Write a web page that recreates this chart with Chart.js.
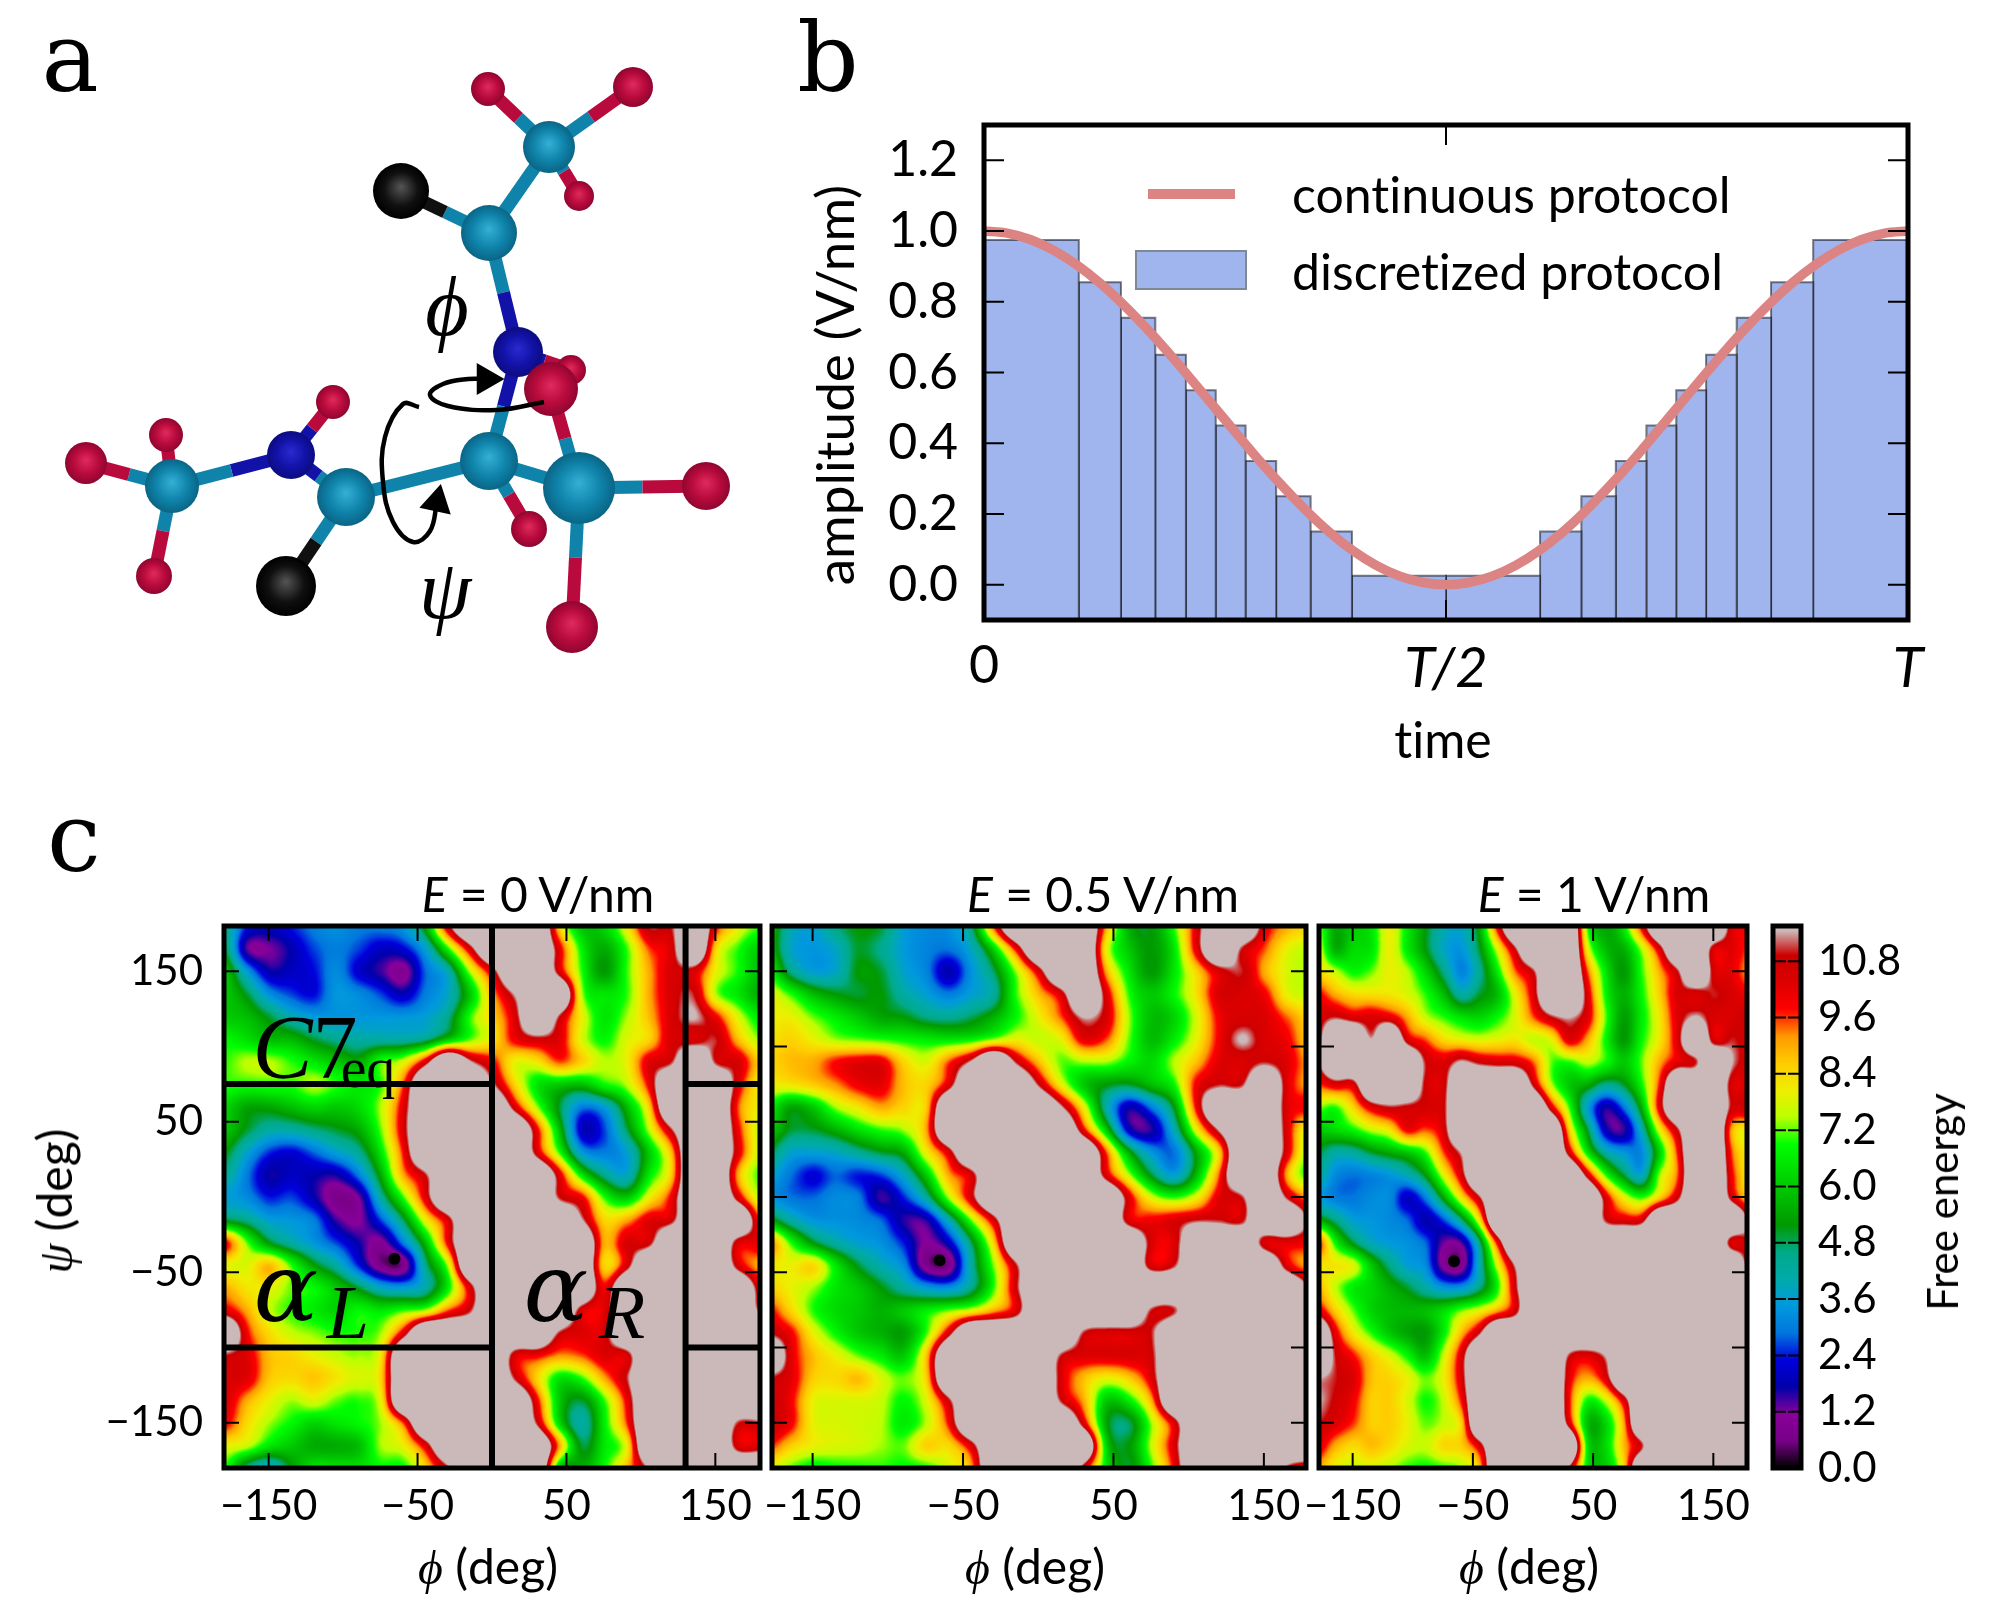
<!DOCTYPE html>
<html lang="en">
<head>
<meta charset="UTF-8">
<title>Dipeptide free energy</title>
<script src="https://cdn.jsdelivr.net/npm/chart.js"></script>
<style>
  body { margin: 0; background: #fff; width: 2000px; height: 1622px; position: relative; overflow: hidden; font-variant-ligatures: none; }
  canvas { position: absolute; left: 0; top: 0; }
  .t { position: absolute; transform: translate(-50%, -50%); white-space: nowrap; font-family: Lato, sans-serif; color: #000; line-height: 1; z-index: 5; }
  .up { transform: translate(-50%, -50%) rotate(-90deg); }
  .letter { font-family: "DejaVu Serif", serif; font-size: 96px; }
  .big { font-family: "Liberation Serif", serif; font-style: italic; }
  .axis { font-size: 48px; }
  .sub { font-family: "Liberation Serif", serif; }
  i.m { font-family: "Liberation Serif", serif; font-style: italic; }
  .swatch { position: absolute; z-index: 5; }
</style>
</head>
<body>
<canvas id="molecule" width="2000" height="1622"></canvas>
<canvas id="protocol" width="2000" height="1622"></canvas>
<canvas id="mapZero" width="2000" height="1622"></canvas>
<canvas id="mapHalf" width="2000" height="1622"></canvas>
<canvas id="mapOne" width="2000" height="1622"></canvas>
<canvas id="colorbar" width="2000" height="1622"></canvas>

<div class="t letter" style="left:70px;top:58px">a</div>
<div class="t letter" style="left:828px;top:58px">b</div>
<div class="t letter" style="left:74px;top:838px">c</div>

<div class="t big" style="left:447px;top:307px;font-size:84px">&#981;</div>
<div class="t big" style="left:445px;top:590px;font-size:84px">&#968;</div>

<div class="swatch" style="left:1148px;top:189px;width:87px;height:10px;background:#dc8484"></div>
<div class="swatch" style="left:1135px;top:250px;width:112px;height:40px;background:#a0b5ee;border:2px solid #808896;box-sizing:border-box"></div>
<div class="t" style="left:1292px;top:194px;font-size:50px;transform:translate(0,-50%)">continuous protocol</div>
<div class="t" style="left:1292px;top:271px;font-size:50px;transform:translate(0,-50%)">discretized protocol</div>
<div class="t up" style="left:833px;top:385px;font-size:53px">amplitude (V/nm)</div>
<div class="t" style="left:1443px;top:739px;font-size:50px">time</div>

<div class="t axis" style="left:538px;top:894px"><i>E</i> = 0 V/nm</div>
<div class="t axis" style="left:1103px;top:894px"><i>E</i> = 0.5 V/nm</div>
<div class="t axis" style="left:1594px;top:894px"><i>E</i> = 1 V/nm</div>
<div class="t axis" style="left:488px;top:1567px"><i class="m">&#981;</i> (deg)</div>
<div class="t axis" style="left:1035px;top:1567px"><i class="m">&#981;</i> (deg)</div>
<div class="t axis" style="left:1529px;top:1567px"><i class="m">&#981;</i> (deg)</div>
<div class="t axis up" style="left:55px;top:1201px"><i class="m">&#968;</i> (deg)</div>
<div class="t up" style="left:1942px;top:1202px;font-size:42px">Free energy</div>

<div class="t big" style="left:305px;top:1048px;font-size:90px"><i>C</i><span class="sub" style="font-style:normal">7</span></div>
<div class="t sub" style="left:368px;top:1068px;font-size:58px">eq</div>
<div class="t" style="left:286px;top:1288px;font-size:96px;font-family:'DejaVu Serif',serif;font-style:italic">&#945;</div>
<div class="t big" style="left:348px;top:1312px;font-size:76px">L</div>
<div class="t" style="left:556px;top:1288px;font-size:96px;font-family:'DejaVu Serif',serif;font-style:italic">&#945;</div>
<div class="t big" style="left:622px;top:1312px;font-size:76px">R</div>

<script>
// panel b
const binEdges = [0, 0.1026, 0.1482, 0.1854, 0.2185, 0.2508, 0.2831, 0.3162, 0.3535, 0.3982, 0.5, 0.6018, 0.6465, 0.6838, 0.7169, 0.7492, 0.7815, 0.8146, 0.8518, 0.8974, 1];
const binHeights = [0.975, 0.855, 0.755, 0.65, 0.55, 0.45, 0.35, 0.25, 0.15, 0.025, 0.025, 0.15, 0.25, 0.35, 0.45, 0.55, 0.65, 0.755, 0.855, 0.975];
const curveTime = [0, 0.025, 0.05, 0.075, 0.1, 0.125, 0.15, 0.175, 0.2, 0.225, 0.25, 0.275, 0.3, 0.325, 0.35, 0.375, 0.4, 0.425, 0.45, 0.475, 0.5, 0.525, 0.55, 0.575, 0.6, 0.625, 0.65, 0.675, 0.7, 0.725, 0.75, 0.775, 0.8, 0.825, 0.85, 0.875, 0.9, 0.925, 0.95, 0.975, 1];
const curveAmplitude = [1, 0.994, 0.976, 0.946, 0.905, 0.854, 0.794, 0.727, 0.655, 0.578, 0.5, 0.422, 0.345, 0.273, 0.206, 0.146, 0.095, 0.054, 0.024, 0.006, 0, 0.006, 0.024, 0.054, 0.095, 0.146, 0.206, 0.273, 0.345, 0.422, 0.5, 0.578, 0.655, 0.727, 0.794, 0.854, 0.905, 0.946, 0.976, 0.994, 1];
const amplitudeTicks = [0, 0.2, 0.4, 0.6, 0.8, 1, 1.2];
const timeTicks = [0, 0.5, 1];
const timeLabels = ['0', 'T/2', 'T'];

// panel a
const atomX = [571, 401, 286, 488, 633, 579, 549, 489, 518, 86, 166, 154, 172, 333, 291, 346, 529, 489, 706, 572, 579, 551];
const atomY = [370, 191, 586, 89, 87, 196, 147, 233, 352, 463, 435, 576, 486, 402, 455, 497, 529, 461, 486, 627, 488, 389];
const atomR = [15, 28, 30, 17, 20, 15, 26, 28, 25, 21, 17, 18, 27, 17, 24, 29, 18, 29, 24, 26, 36, 27];
const atomKind = ['H', 'O', 'O', 'H', 'H', 'H', 'C', 'C', 'N', 'H', 'H', 'H', 'C', 'H', 'N', 'C', 'H', 'C', 'H', 'H', 'C', 'H'];
const bondFrom = [6, 6, 6, 6, 7, 7, 8, 8, 17, 17, 17, 20, 20, 20, 15, 15, 14, 14, 12, 12, 12];
const bondTo = [3, 4, 5, 7, 1, 8, 0, 17, 15, 20, 16, 21, 18, 19, 14, 2, 13, 12, 9, 10, 11];
const phiArrowX = [544, 497, 448, 430, 443, 468, 486];
const phiArrowY = [402, 410, 406, 395, 384, 379, 379];
const psiArrowX = [419, 403, 385, 383, 393, 413, 430, 437];
const psiArrowY = [407, 404, 437, 482, 522, 542, 531, 502];

// panel c
const phiNodes = [-180, -165, -150, -135, -120, -105, -90, -75, -60, -45, -30, -15, 0, 15, 30, 45, 60, 75, 90, 105, 120, 135, 150, 165, 180];
const psiNodes = [180, 165, 150, 135, 120, 105, 90, 75, 60, 45, 30, 15, 0, -15, -30, -45, -60, -75, -90, -105, -120, -135, -150, -165, -180];
const phiTicks = [-150, -50, 50, 150];
const psiLabelled = [-150, -50, 50, 150];
const psiTicks = [-150, -100, -50, 0, 50, 100, 150];
const energyTicks = [0, 1.2, 2.4, 3.6, 4.8, 6, 7.2, 8.4, 9.6, 10.8];
const cutPhi = [0, 130];
const cutPsi = [75, -100];
const deepestPhi = [-65.5, -65.6, -65.7];
const deepestPsi = [-41, -42, -42.6];
const colorStops = [0, 0.58, 1.15, 1.73, 2.3, 2.88, 3.45, 4.03, 4.6, 5.18, 5.75, 6.33, 6.9, 7.48, 8.05, 8.63, 9.2, 9.78, 10.35, 10.93, 11.45];
const stopColors = ['#000000', '#780088', '#880099', '#0000aa', '#0000dd', '#0077dd', '#0099dd', '#00aaaa', '#00aa88', '#009900', '#00bb00', '#00dd00', '#00ff00', '#bbff00', '#eeee00', '#ffcc00', '#ff9900', '#ff0000', '#dd0000', '#cc0000', '#cbb9b9'];

const energyZero = [
[4.5,2.4,2,2.4,3,3.3,3,3,3.4,5.5,10.5,12,12,12,12,8.5,6,6.2,8,11,11,12,10,8,7],
[5,1.4,1.2,1.8,2.6,3,2.6,2,2.2,3.6,6.8,10.5,12,12,12,10.2,6.7,5.5,7,9.5,10.5,12,8.5,7,6],
[6,3.5,1.8,2,2.3,3.2,2.1,1.5,0.9,2.8,4,7.5,10.5,12,12,10.5,7,5.2,7,9,10.5,10.5,8,6.9,5.8],
[6,5,3.3,2.6,2.3,3.4,3.2,2.6,1.9,3,3.8,6,9,11.5,12,12,7.5,6.5,7,9,10.5,11,7.5,6.5,5.5],
[6,5.8,5,4,3.5,3.4,3.4,3.4,3.4,3.6,4.5,7,8.5,10.5,12,11,8,6.5,7.4,8.8,10.5,11.5,10,7.8,6.5],
[6.8,6.4,5.8,5.7,5,4.5,4.2,4.2,4.2,4.6,6,7.2,8.2,10,10.7,10.3,7.8,6.8,7.8,8.5,10.5,10.5,11,8.8,7.3],
[7,7.5,7.5,7,6.5,6,5.5,7,7.8,10.5,12,11.5,10,8,8.2,9.5,8.5,7.5,8,10.3,11,12,11,10.5,8.5],
[7,6.9,7,7,7.5,7,6.5,7,9.5,12,12,12,11.5,8.5,6.5,6,5.8,6.8,7.5,10,12,12,12,10.3,8],
[6.2,5.4,5.4,5.8,6.2,6,6.3,7.5,10.3,12,12,12,12,10.5,7.4,5,3,3.5,5.7,8.5,12,12,12,9.5,8],
[6,5,4.2,4.2,4.6,5,5.5,7.2,10.5,12,12,12,12,12,10,5.8,2,2.6,4.8,7.5,11,12,12,10,7.5],
[5.2,3.7,2.5,2.2,2.8,3.6,4.4,6.5,9.8,12,12,12,12,12,10.5,7,3.5,3,3.6,6,8.8,12,12,10.3,7.5],
[4.4,3,1.7,2,1.8,1.7,3,5.5,9,11,12,12,12,12,12,10.3,6.5,4.5,3.8,6.5,8.6,12,12,9,7],
[3.6,3.2,2.4,2.6,1.8,0.7,1.2,4.2,7,10.3,12,12,12,12,12,11,10,7,6,8,10,12,12,10.5,7.5],
[5,4.5,3.6,3.4,3,1.5,1.1,2.6,4.8,8,10.5,12,12,12,12,12,11.5,8.5,9,10.3,10.7,12,12,12,9.5],
[10,7.2,5.2,4.2,3.4,2.6,1.7,1,3,5.8,10,12,12,12,12,12,12,9,10.5,10.7,12,12,12,10.5,10.3],
[8,7.8,8.8,7,5.3,4.2,2.4,0.7,0.7,4.5,7.5,12,12,12,12,12,12,8.5,10.5,12,12,12,12,10.5,9],
[9,8.2,8,7.2,6.8,6,5,3.8,3.5,4.2,6.6,10.5,12,12,12,12,12,10,12,12,12,12,12,12,10.3],
[10.3,9,7.6,7,6.6,6.2,6.8,6.5,7,7.5,9.5,11,12,12,12,12,10.5,10.3,12,12,12,12,12,12,11],
[12,10,8.4,7.6,7.3,7,7,7.4,10.3,12,12,12,12,12,12,11,10.4,10.5,12,12,12,12,12,12,12],
[11,10.3,8.8,8.5,8,7.6,7.4,8.2,12,12,12,12,12,10.5,10,9.2,9.5,10.4,10.5,12,12,12,12,12,12],
[10.5,10.3,8.7,8.4,8.7,8.2,7.8,8.5,12,12,12,12,12,11,8.5,6.5,7,9,11,12,12,12,12,12,12],
[10.5,9,8,7.4,7.8,7.2,7,8,12,12,12,12,12,12,10,6,5,7,10,12,12,12,12,12,12],
[10,8.4,7.4,6.8,6.2,6.5,6.8,7.4,9.5,12,12,12,12,12,11,6.3,4.2,6.6,9.5,12,12,12,12,11,11],
[8,7.6,6.5,6,5.5,5.5,5.8,7.4,8,10.3,12,12,12,12,12,9,5,6.5,8,12,12,12,12,10.5,10.5],
[7,4.5,3.6,5.2,6.4,6.4,6.4,6.8,6.8,8.5,11,12,12,12,12,6,5.5,6.8,8.8,11.5,12,12,12,12,12]
];
const energyHalf = [
[6,4,3.6,4.6,5.2,5,3.6,3.2,3.3,4.6,9.5,12,12,12,12,9,5.6,5.2,7,10.4,12,12,10.4,9,8.5],
[6,3.8,3.4,3.8,5,4.5,3.5,3.1,2.9,3.8,6.2,10,12,12,12,8,6,5.2,6.5,10.3,12,11,9.5,8,7.5],
[7,4.6,3.6,3.8,5.2,5,3.7,3.1,1.8,3.3,4.8,7.4,10.4,12,12,9,6.5,5.2,6.5,8.5,10.5,11,9,7.8,7.4],
[8,7,5.8,5.2,5,5.2,4.2,3.6,3,3.6,4.3,7,8.8,10.5,12,10.4,7,6,6.8,8.3,10.5,10.5,10,8,7.6],
[8,8,7.2,6.6,6,5.4,5.2,4.6,4.4,4.8,5.6,6.8,8,9.5,11.5,10.5,7.4,5.8,6.2,7.8,10,10.5,10.4,9.4,8.4],
[8.2,8.5,8,7.4,7.2,7,6.8,6.6,6.5,6.7,7.4,8,7.6,8,10.2,9.5,7.2,5.8,6.6,8,10,11.5,10.5,10,8.5],
[8.5,8.8,9,9.8,10.2,10.2,8.5,7.8,9.5,11.5,12,11,8.8,7.2,7.4,7.4,6.7,6.3,7.5,8.8,10.3,10.4,11,10.3,9],
[8,8.2,8.6,9.2,10,10.2,8.8,8.5,10.4,12,12,12,11,8,6,5.2,5,5.8,6.8,10,11,11,12,10.4,9],
[6.8,5.4,6,7.4,8.2,9,8.5,8.6,12,12,12,12,12,11.5,8,4.2,1.8,3,5.2,10,12,12,12,10.4,10],
[6.2,5,5,5.6,6.4,7,7.4,9,12,12,12,12,12,12,10,6,2,1.6,4,8,11.5,12,12,10.4,7.5],
[5,3.7,3.6,3.8,4.4,5,5.5,8,10.4,12,12,12,12,12,12,9.5,5.5,3.4,2.9,5.5,8.6,12,12,10.4,7],
[3.8,2.9,2.2,2.8,2.4,2.6,3.8,6,9,10.5,12,12,12,12,12,10.4,7.5,5,3.6,5.8,9.5,12,12,9,6.8],
[3.4,2.9,2.8,3.2,3,1.5,2.4,4.2,7.4,10.5,12,12,12,12,12,12,10.3,7.8,7,8,10.3,11,12,11,9],
[5.5,4.2,3.4,3.3,3.2,2.8,1.6,1.6,4,7.2,10.5,12,12,12,12,12,10.4,10,10.4,11,11,10.8,12,12,11],
[9.5,7,5.2,4.2,3.6,3.3,2.4,1.1,2,4.8,8.5,12,12,12,12,12,12,10.5,10.4,12,12,12,10.5,10.3,10],
[8.2,8,8.4,6.5,5,4,3.2,0.8,0.7,4.2,7.3,11,12,12,12,12,12,10.4,11,12,12,12,12,10.4,9],
[8.6,8,7.4,6.5,6,5.2,4.3,3.5,3.3,4.5,7,10.8,12,12,12,12,12,12,12,12,12,12,12,12,11.5],
[10,8.5,7,6.3,6,5.6,6,6.6,7.2,7.8,9,10.4,12,12,12,12,12,11,11,12,12,12,12,12,12],
[11,10,8,6.8,6,5.6,5.3,7,10.5,12,12,12,12,12,11,10.5,10.5,11,12,12,12,12,12,12,12],
[12,10.4,8.8,8,7.2,6.6,6,8.6,12,12,12,12,12,11,10.4,10.4,10.5,10.8,12,12,12,12,12,12,12],
[11,10.3,8.6,8.4,8.8,7.8,7.2,8.5,12,12,12,12,12,10.5,8.8,8,8.6,10.4,12,12,12,12,12,12,12],
[11,10,8,7.8,7.8,7.6,6.8,7.8,10.8,12,12,12,12,11,9,6,6.6,9,12,12,12,12,12,12,12],
[11,10,8,7.8,7.7,7.5,6.6,7.5,9.8,12,12,12,12,12,10.4,5.4,4.8,7.4,10.4,12,12,12,12,12,12],
[9.8,8.6,8,7.8,7.7,7.4,7.2,8.5,8.4,10.4,12,12,12,12,12,6.2,5.2,7.6,10.5,12,12,12,12,12,12],
[8,7.2,6.6,6.8,6.9,7,6.8,6.9,7.8,9,12,12,12,12,10.5,6.5,5,7,10,12,12,12,12,11,10]
];
const energyOne = [
[7.5,5.5,6,6.5,8,6.6,5.2,4,3.8,5.5,10,12,12,12,12,7,5.4,6.6,10,12,12,12,12,10.4,10],
[8,5.6,6.3,6.5,8,6.6,5.2,3.8,3.4,5,7.8,11,12,12,12,8,5.8,5.6,7.5,10.5,12,12,10.5,10.3,9.5],
[8.4,7.6,6.8,7.2,8,7.5,6.2,4.6,3.1,4.4,6.6,9.4,11,12,12,9.5,6.5,5.2,7,9,11,12,10.6,10.2,9],
[10,9,8.4,8.3,8.2,7.8,7,5.8,4.2,5,5.8,8,10.4,12,12,10.4,6.8,5.6,6.8,8.6,10.5,10.5,11,10.5,10],
[10.5,11,10.4,10.4,10.2,9,7.6,7,6.4,6.2,6.8,7.8,9.5,11,11.5,10.3,7.2,5.3,6.6,8.2,10.4,11.5,10.5,10.5,11],
[10.5,12,12,11.5,12,10.5,9.5,8.4,8,7.8,8,8.2,7.6,8,10.3,9,6.8,5.2,6.8,8.2,10.5,12,10.5,11,10.6],
[11,12,12,12,12,12,11,10.4,11.5,10.8,10.5,10.4,9.4,7.2,7,7.6,6.9,6,7.2,9,10.3,11,12,11.5,10.6],
[9.5,10.4,10.5,12,12,12,10.8,10.6,12,12,12,12,10.8,7.5,6,5.5,4.5,5,6.8,9.8,12,12,12,10.5,10.5],
[7.4,7,8.5,10.3,11,10.8,10.6,10.8,12,12,12,12,12,10.3,7,3.6,1.7,2.9,5.6,10.3,12,12,12,10.8,11],
[6,6.3,6.8,7.6,8.2,10,9.5,10.5,12,12,12,12,12,12,8.5,5,1.9,1.5,4,8,11,12,12,9,8],
[5,4.2,4.3,5,5.5,6,7,9.5,11.5,12,12,12,12,12,10.4,6.5,4.2,3.4,3.2,6.2,9.8,12,12,9.5,8],
[4.4,3.2,2.9,3.1,3.4,4,5.2,7.8,10.5,12,12,12,12,12,12,10.5,7,5,3.8,7.4,9.5,12,12,10,8],
[3.6,3,2.9,3.2,3.2,2,3,5.4,8.2,11,12,12,12,12,12,12,10.4,8,7,8.6,10.8,12,12,10.6,8.5],
[5.6,4.6,3.6,3.4,3.2,2.8,1.8,2.6,4.6,8.2,12,12,12,12,12,12,11,10.4,10.6,12,12,12,12,12,11],
[10,6.8,5,3.9,3.5,3.3,2.8,1.3,1.4,4.6,10,12,12,12,12,12,12,12,12,12,12,12,12,10.5,11],
[8.2,8.2,7.8,6,4.6,3.6,3.2,1,0.8,4,7.8,11.5,12,12,12,12,12,12,12,12,12,12,12,12,10.5],
[9,7.6,6.6,6.2,5.6,5,4.2,3.4,3.4,4.6,6.8,10.8,12,12,12,12,12,12,12,12,12,12,12,12,12],
[10.4,8.6,7.2,6.2,5.8,5.7,5.8,6.3,7.2,7.9,9,10.6,12,12,12,12,12,12,12,12,12,12,12,12,12],
[12,10.3,8.2,7,6,5.4,5.2,6.6,8.8,11,12,12,12,12,12,12,12,12,12,12,12,12,12,12,12],
[12,11,9.8,8.6,7.8,6.8,5.8,7.6,10.4,12,12,12,12,12,11,10.4,11.5,12,12,12,12,12,12,12,12],
[11.5,11,10.4,8.8,8.5,8,7.2,8,10.5,12,12,12,12,12,10.2,9,10.4,12,12,12,12,12,12,12,12],
[11.5,10.8,10,8.6,8.6,7.8,6.9,7.6,9.8,12,12,12,12,12,9.8,6.8,7.6,10.3,12,12,12,12,12,12,12],
[11,10.4,9.6,8.6,8.6,8,7.2,7.6,8.6,12,12,12,12,12,10.4,5.8,6.2,9,12,12,12,12,12,12,12],
[10.4,9,8.4,8.8,8.4,7.8,7.6,8.4,8.6,10.4,12,12,12,12,12,6.5,6.3,8.8,11,12,12,12,12,12,12],
[9,8,7.7,7.8,7.5,7,6.8,7,7.4,8.8,12,12,12,12,11,6.5,6,8.4,12,12,12,12,12,12,12]
];

const atomColors = {
  C: ['#35b0d6', '#0f83aa', '#0a6585'],
  H: ['#e02a5e', '#b80a3c', '#8f0630'],
  N: ['#2a2ad0', '#1212a8', '#0c0c80'],
  O: ['#555555', '#101010', '#000000']
};
const sans = 'Lato, sans-serif';
// nodes read as 12 are the flat grey plateau: the energy there is off the scale
const plateauEnergy = 14.5;

function energyColor(v) {
  if (v >= colorStops[colorStops.length - 1]) return hexRgb(stopColors[stopColors.length - 1]);
  for (let k = 1; k < colorStops.length; k++) {
    if (v <= colorStops[k]) {
      const f = (v - colorStops[k - 1]) / (colorStops[k] - colorStops[k - 1]);
      const a = hexRgb(stopColors[k - 1]), b = hexRgb(stopColors[k]);
      return [a[0] + (b[0] - a[0]) * f, a[1] + (b[1] - a[1]) * f, a[2] + (b[2] - a[2]) * f];
    }
  }
}
function hexRgb(h) {
  return [parseInt(h.slice(1, 3), 16), parseInt(h.slice(3, 5), 16), parseInt(h.slice(5, 7), 16)];
}
function cubic(a, b, c, d, t) {
  return b + 0.5 * t * (c - a + t * (2 * a - 5 * b + 4 * c - d + t * (3 * (b - c) + d - a)));
}

// contour style fill of the free energy nodes, placed with the chart's own scales
const heatPlugin = {
  id: 'heat',
  beforeDatasetsDraw(chart) {
    const set = chart.data.datasets.find(d => d.label === 'free energy');
    if (!set) return;
    const { ctx, chartArea: a, scales } = chart;
    const w = Math.round(a.right - a.left), h = Math.round(a.bottom - a.top);
    const off = document.createElement('canvas');
    off.width = w; off.height = h;
    const octx = off.getContext('2d');
    const img = octx.createImageData(w, h);
    const n = phiNodes.length;
    const lut = [];
    for (let k = 0; k <= plateauEnergy * 100 + 1; k++) lut.push(energyColor(k / 100));
    const node = (j, i) => {
      const v = set.data[Math.max(0, Math.min(n - 1, j)) * n + Math.max(0, Math.min(n - 1, i))].v;
      return v >= 12 ? plateauEnergy : v;
    };
    for (let py = 0; py < h; py++) {
      const psi = scales.y.getValueForPixel(a.top + py);
      const rj = Math.max(0, Math.min(n - 1.001, (psiNodes[0] - psi) / (psiNodes[0] - psiNodes[1])));
      const j = Math.floor(rj), fj = rj - j;
      for (let px = 0; px < w; px++) {
        const phi = scales.x.getValueForPixel(a.left + px);
        const ri = Math.max(0, Math.min(n - 1.001, (phi - phiNodes[0]) / (phiNodes[1] - phiNodes[0])));
        const i = Math.floor(ri), fi = ri - i;
        const rows = [-1, 0, 1, 2].map(d => cubic(node(j + d, i - 1), node(j + d, i), node(j + d, i + 1), node(j + d, i + 2), fi));
        const v = Math.max(0, Math.min(plateauEnergy, cubic(rows[0], rows[1], rows[2], rows[3], fj)));
        const c = lut[Math.round(v * 100)];
        const o = (py * w + px) * 4;
        img.data[o] = c[0]; img.data[o + 1] = c[1]; img.data[o + 2] = c[2]; img.data[o + 3] = 255;
      }
    }
    octx.putImageData(img, 0, 0);
    ctx.drawImage(off, a.left, a.top);
  }
};

const barPlugin = {
  id: 'barGradient',
  beforeDatasetsDraw(chart) {
    const set = chart.data.datasets.find(d => d.label === 'colour scale');
    if (!set) return;
    const { ctx, chartArea: a, scales } = chart;
    const g = ctx.createLinearGradient(0, a.bottom, 0, a.top);
    const span = a.bottom - a.top;
    set.data.forEach((p, k) => {
      const f = (a.bottom - scales.y.getPixelForValue(p.y)) / span;
      g.addColorStop(Math.min(1, f), stopColors[k]);
    });
    ctx.fillStyle = g;
    ctx.fillRect(a.left, a.top, a.right - a.left, span);
  }
};

// matplotlib style box with ticks pointing inwards
const framePlugin = {
  id: 'frame',
  afterDatasetsDraw(chart, args, opts) {
    if (!opts.width) return;
    const { ctx, chartArea: a, scales } = chart;
    ctx.save();
    ctx.strokeStyle = '#000';
    ctx.lineWidth = opts.tickWidth;
    ctx.beginPath();
    (opts.xMarks || []).forEach(v => {
      const x = scales.x.getPixelForValue(v);
      ctx.moveTo(x, a.top); ctx.lineTo(x, a.top + opts.tick);
      ctx.moveTo(x, a.bottom); ctx.lineTo(x, a.bottom - opts.tick);
    });
    (opts.yMarks || []).forEach(v => {
      const y = scales.y.getPixelForValue(v);
      ctx.moveTo(a.left, y); ctx.lineTo(a.left + opts.tick, y);
      ctx.moveTo(a.right, y); ctx.lineTo(a.right - opts.tick, y);
    });
    ctx.stroke();
    ctx.lineWidth = opts.width;
    ctx.strokeRect(a.left, a.top, a.right - a.left, a.bottom - a.top);
    ctx.restore();
  }
};
Chart.register(heatPlugin, barPlugin, framePlugin);
Chart.defaults.animation = false;
Chart.defaults.responsive = false;
Chart.defaults.devicePixelRatio = 1;

function place(box, leftGutter, bottomGutter, rightGutter) {
  return {
    autoPadding: false,
    padding: { left: box.left - leftGutter, top: box.top, right: 2000 - box.right - rightGutter, bottom: 1622 - box.bottom - bottomGutter }
  };
}

function minus(v) {
  return String(v).replace('-', '\u2212');
}

function noLegend(frame) {
  return { legend: { display: false }, tooltip: { enabled: false }, frame: frame };
}

// panel a: ball and stick model
function moleculeDatasets() {
  const sets = [];
  let order = 1000;
  for (let b = 0; b < bondFrom.length; b++) {
    const p = bondFrom[b], q = bondTo[b];
    const colorP = atomColors[atomKind[p]][1], colorQ = atomColors[atomKind[q]][1];
    sets.push({
      type: 'line',
      data: [{ x: atomX[p], y: atomY[p] }, { x: (atomX[p] + atomX[q]) / 2, y: (atomY[p] + atomY[q]) / 2 }, { x: atomX[q], y: atomY[q] }],
      borderWidth: 13, pointRadius: 0, borderCapStyle: 'butt', order: order--,
      segment: { borderColor: c => c.p0DataIndex === 0 ? colorP : colorQ }
    });
  }
  atomX.forEach((x, k) => {
    const shades = atomColors[atomKind[k]];
    sets.push({
      type: 'bubble',
      data: [{ x: x, y: atomY[k], r: atomR[k] }],
      borderWidth: 0, order: order--,
      backgroundColor: c => {
        const px = c.chart.scales.x.getPixelForValue(x), py = c.chart.scales.y.getPixelForValue(atomY[k]);
        if (!isFinite(px) || !isFinite(py)) return shades[1];
        const r = atomR[k];
        const g = c.chart.ctx.createRadialGradient(px, py - r * 0.15, 0, px, py, r);
        g.addColorStop(0, shades[0]); g.addColorStop(0.6, shades[1]); g.addColorStop(1, shades[2]);
        return g;
      }
    });
  });
  [[phiArrowX, phiArrowY, 90], [psiArrowX, psiArrowY, 12]].forEach(arrow => {
    const xs = arrow[0], ys = arrow[1];
    sets.push({
      type: 'line',
      data: xs.map((x, k) => ({ x: x, y: ys[k] })),
      borderColor: '#000', backgroundColor: '#000', borderWidth: 4.5, tension: 0.4, order: order--,
      pointStyle: 'triangle', pointRotation: arrow[2],
      pointRadius: c => c.dataIndex === xs.length - 1 ? 14 : 0
    });
  });
  return sets;
}

new Chart(document.getElementById('molecule'), {
  data: { datasets: moleculeDatasets() },
  options: {
    layout: { autoPadding: false, padding: 0 },
    plugins: noLegend({}),
    scales: {
      x: { type: 'linear', display: false, min: 0, max: 2000 },
      y: { type: 'linear', display: false, min: 0, max: 1622, reverse: true }
    }
  }
});

// panel b: protocol
const protocolSets = [{
  type: 'line', label: 'continuous protocol',
  data: curveTime.map((t, k) => ({ x: t, y: curveAmplitude[k] })),
  borderColor: '#dc8484', borderWidth: 9.5, pointRadius: 0, tension: 0.3, order: 0
}];
binHeights.forEach((h, k) => {
  protocolSets.push({
    type: 'line', label: k === 0 ? 'discretized protocol' : '',
    data: [{ x: binEdges[k], y: -0.1 }, { x: binEdges[k], y: h }, { x: binEdges[k + 1], y: h }, { x: binEdges[k + 1], y: -0.1 }],
    borderColor: 'rgba(0,0,0,0.5)', borderWidth: 2, backgroundColor: '#a0b5ee',
    fill: { value: -0.1 }, pointRadius: 0, tension: 0, order: 1
  });
});
new Chart(document.getElementById('protocol'), {
  data: { datasets: protocolSets },
  options: {
    layout: place({ left: 984, top: 125, right: 1908, bottom: 620 }, 150, 100, 0),
    plugins: noLegend({ width: 5, tick: 20, tickWidth: 2, xMarks: timeTicks, yMarks: amplitudeTicks }),
    scales: {
      x: {
        type: 'linear', min: 0, max: 1, grid: { display: false }, border: { display: false },
        afterBuildTicks: s => { s.ticks = timeTicks.map(v => ({ value: v })); },
        afterFit: s => { s.height = 100; },
        ticks: {
          autoSkip: false, maxRotation: 0, padding: 7, color: '#000',
          callback: v => timeLabels[timeTicks.indexOf(v)],
          font: c => c.index === 0 ? { family: sans, size: 52 } : { family: sans, size: 56, style: 'italic' }
        }
      },
      y: {
        type: 'linear', min: -0.1, max: 1.3, grid: { display: false }, border: { display: false },
        afterBuildTicks: s => { s.ticks = amplitudeTicks.map(v => ({ value: v })); },
        afterFit: s => { s.width = 150; },
        ticks: { padding: 18, color: '#000', callback: v => v.toFixed(1), font: { family: sans, size: 50 } }
      }
    }
  }
});

// panel c: free energy maps
function mapChart(id, grid, box, xRange, showPsi, marksY, deepest, extra) {
  const nodes = [];
  grid.forEach((row, j) => row.forEach((v, i) => nodes.push({ x: phiNodes[i], y: psiNodes[j], v: v })));
  const deepSet = { data: [{ x: deepestPhi[deepest], y: deepestPsi[deepest] }], backgroundColor: '#000', borderWidth: 0, pointRadius: 6, showLine: false };
  new Chart(document.getElementById(id), {
    type: 'scatter',
    data: { datasets: [{ label: 'free energy', data: nodes, pointRadius: 0, showLine: false }, deepSet].concat(extra) },
    options: {
      layout: place(box, 150, 100, 0),
      plugins: noLegend({ width: 5, tick: 15, tickWidth: 2, xMarks: phiTicks, yMarks: marksY }),
      scales: {
        x: {
          type: 'linear', min: xRange[0], max: xRange[1], grid: { display: false }, border: { display: false },
          afterBuildTicks: s => { s.ticks = phiTicks.map(v => ({ value: v })); },
          afterFit: s => { s.height = 100; },
          ticks: { autoSkip: false, maxRotation: 0, padding: 5, color: '#000', callback: minus, font: { family: sans, size: 42 } }
        },
        y: {
          type: 'linear', min: -180, max: 180, grid: { display: false }, border: { display: false },
          afterBuildTicks: s => { s.ticks = marksY.map(v => ({ value: v })); },
          afterFit: s => { s.width = 150; },
          ticks: { padding: 13, color: '#000', callback: v => showPsi ? minus(v) : '', font: { family: sans, size: 42 } }
        }
      }
    }
  });
}

function cutLine(x0, y0, x1, y1) {
  return { type: 'line', data: [{ x: x0, y: y0 }, { x: x1, y: y1 }], borderColor: '#000', borderWidth: 6, pointRadius: 0, showLine: true };
}
const regionLines = [
  cutLine(cutPhi[0], -180, cutPhi[0], 180),
  cutLine(cutPhi[1], -180, cutPhi[1], 180),
  cutLine(-180, cutPsi[0], cutPhi[0], cutPsi[0]),
  cutLine(-180, cutPsi[1], cutPhi[0], cutPsi[1]),
  cutLine(cutPhi[1], cutPsi[0], 180, cutPsi[0]),
  cutLine(cutPhi[1], cutPsi[1], 180, cutPsi[1])
];

mapChart('mapZero', energyZero, { left: 224, top: 926, right: 760, bottom: 1468 }, [-180, 180], true, psiLabelled, 0, regionLines);
mapChart('mapHalf', energyHalf, { left: 772, top: 926, right: 1306, bottom: 1468 }, [-177, 178], false, psiTicks, 1, []);
mapChart('mapOne', energyOne, { left: 1319, top: 926, right: 1747, bottom: 1468 }, [-178, 178], false, psiTicks, 2, []);

// colour bar
new Chart(document.getElementById('colorbar'), {
  type: 'scatter',
  data: { datasets: [{ label: 'colour scale', data: colorStops.map(v => ({ x: 0, y: v })), pointRadius: 0, showLine: false }] },
  options: {
    layout: place({ left: 1773, top: 926, right: 1801, bottom: 1468 }, 0, 0, 150),
    plugins: noLegend({ width: 5, tick: 13, tickWidth: 2, xMarks: [], yMarks: energyTicks }),
    scales: {
      x: { type: 'linear', display: false, min: -1, max: 1 },
      y: {
        type: 'linear', position: 'right', min: 0, max: 11.55, grid: { display: false }, border: { display: false },
        afterBuildTicks: s => { s.ticks = energyTicks.map(v => ({ value: v })); },
        afterFit: s => { s.width = 150; },
        ticks: { padding: 9, color: '#000', callback: v => v.toFixed(1), font: { family: sans, size: 42 } }
      }
    }
  }
});
</script>
</body>
</html>
